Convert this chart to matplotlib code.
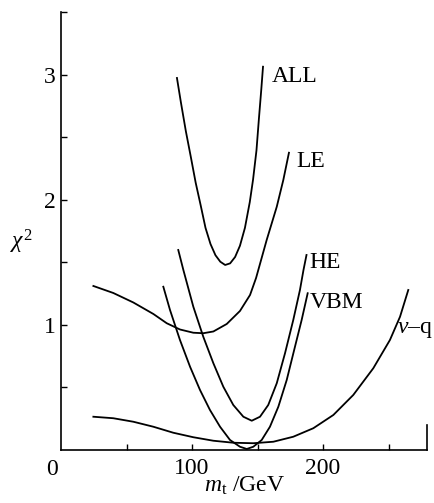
import numpy as np
import matplotlib.pyplot as plt

plt.rcParams['font.family'] = 'Liberation Serif'
plt.rcParams['mathtext.fontset'] = 'custom'
plt.rcParams['mathtext.rm'] = 'Liberation Serif'
plt.rcParams['mathtext.it'] = 'Liberation Serif:italic'

# curves: m_t (GeV), chi^2
all_m = [88.5, 91.5, 95.3, 99.1, 102.8, 106.6, 110.3, 114.1, 117.9, 121.6, 125.3,
         129.1, 132.9, 136.6, 140.4, 144.1, 146.6, 149.2, 151.1, 152.9, 154.2]
all_c = [2.976, 2.782, 2.550, 2.344, 2.138, 1.958, 1.777, 1.648, 1.558, 1.506, 1.480,
         1.493, 1.544, 1.634, 1.777, 1.983, 2.163, 2.396, 2.654, 2.886, 3.066]

le_m = [24.7, 39.9, 55.2, 70.5, 80.7, 90.8, 101.0, 108.6, 116.3, 126.5, 136.6,
        144.3, 148.9, 157.0, 164.7, 169.7, 174.0]
le_c = [1.312, 1.256, 1.180, 1.088, 1.014, 0.964, 0.938, 0.934, 0.948, 1.008, 1.112,
        1.240, 1.376, 1.680, 1.946, 2.160, 2.378]

he_m = [89.5, 93.4, 101.0, 108.6, 116.3, 123.9, 131.5, 139.2, 145.6, 151.9, 158.2,
        164.7, 171.0, 177.3, 182.4, 185.1, 187.4]
he_c = [1.600, 1.440, 1.146, 0.906, 0.694, 0.506, 0.360, 0.266, 0.234, 0.266, 0.360,
        0.534, 0.774, 1.040, 1.280, 1.440, 1.560]

vbm_m = [78.1, 83.2, 90.8, 98.5, 106.1, 113.7, 121.4, 129.0, 136.6, 141.8, 146.8,
         153.2, 159.5, 165.9, 172.3, 178.6, 183.7, 188.3]
vbm_c = [1.306, 1.120, 0.880, 0.666, 0.480, 0.320, 0.186, 0.080, 0.026, 0.008, 0.026,
         0.080, 0.186, 0.346, 0.560, 0.826, 1.040, 1.254]

nq_m = [24.7, 39.9, 55.2, 70.5, 85.7, 101.0, 116.3, 131.5, 146.8, 162.1, 177.3,
        192.6, 207.9, 223.1, 238.4, 251.1, 258.8, 265.1]
nq_c = [0.266, 0.254, 0.226, 0.186, 0.138, 0.102, 0.074, 0.058, 0.054, 0.066, 0.106,
        0.174, 0.280, 0.440, 0.654, 0.880, 1.066, 1.280]

curves = [(all_m, all_c), (le_m, le_c), (he_m, he_c), (vbm_m, vbm_c), (nq_m, nq_c)]
names = ['ALL', 'LE', 'HE', 'VBM', r'$\nu$–q']
name_pos = [(161, 2.99), (179.5, 2.31), (189.5, 1.50), (189.5, 1.18), (256.5, 0.96)]

fig = plt.figure(figsize=(4.34, 5.03), dpi=100)
ax = fig.add_axes([0.1406, 0.1054, 0.8433, 0.8708])

for (m, c) in curves:
    ax.plot(m, c, color='black', lw=1.3, solid_joinstyle='round')

for name, (x, y) in zip(names, name_pos):
    ax.text(x, y, name, fontsize=17, ha='left', va='center')

ax.set_xlim(0, 279.4)
ax.set_ylim(0, 3.504)

ax.spines['top'].set_visible(False)
ax.spines['right'].set_bounds(0, 0.2)
for s in ax.spines.values():
    s.set_linewidth(1.2)

ax.set_xticks([50, 100, 150, 200, 250])
ax.set_xticklabels(['', '100', '', '200', ''])
ax.set_yticks([0.5, 1, 1.5, 2, 2.5, 3, 3.5])
ax.set_yticklabels(['', '1', '', '2', '', '3', ''])
ax.tick_params(direction='in', length=4, width=1, labelsize=17)
ax.tick_params(axis='x', pad=6)
ax.tick_params(axis='y', pad=4)
ax.tick_params(right=False)

ax.text(-7, -0.07, '0', fontsize=17, ha='center', va='top')
ax.set_xlabel(r'$m_\mathrm{t}$ /GeV', fontsize=17, labelpad=-3)
fig.text(0.05, 1 - 242 / 503, r'$\chi^2$', fontsize=17, ha='center', va='center')

fig.savefig('out.png', dpi=100)
